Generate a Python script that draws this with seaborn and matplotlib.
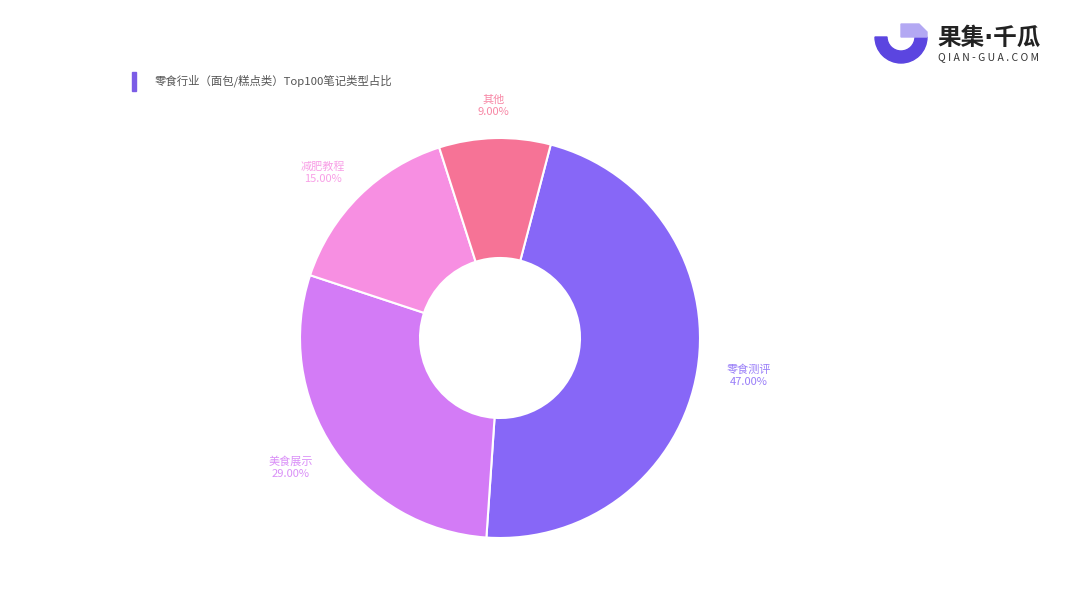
import numpy as np
import matplotlib.pyplot as plt
import matplotlib.patches as mpatches
import seaborn as sns

# data
categories = ['零食测评', '美食展示', '减肥教程', '其他']
shares = [47.00, 29.00, 15.00, 9.00]
colors = ['#8767F7', '#D37BF6', '#F78FE2', '#F67396']
title = '零食行业（面包/糕点类）Top100笔记类型占比'

sns.set_theme(style='white')
plt.rcParams['font.family'] = ['Noto Sans CJK SC', 'DejaVu Sans']

fig = plt.figure(figsize=(10.8, 5.91), dpi=100)
ax = fig.add_axes([0, 0, 1, 1])

start = 75.3
wedges, _ = ax.pie(shares, colors=colors, startangle=start, counterclock=False,
                   radius=1.0, wedgeprops=dict(width=0.6, edgecolor='white', linewidth=1.5))

# labels outside each slice
for w, name, val, c in zip(wedges, categories, shares, colors):
    mid = np.deg2rad((w.theta1 + w.theta2) / 2)
    x, y = 1.26 * np.cos(mid), 1.16 * np.sin(mid)
    ax.text(x, y, f'{name}\n{val:.2f}%', ha='center', va='center', fontsize=8,
            color=c, alpha=0.85, linespacing=1.25)

ax.set_xlim(-500 / 200, 580 / 200)
ax.set_ylim(-(591 - 338) / 200, 338 / 200)
ax.set_aspect('equal')
ax.axis('off')

# title with marker bar
fig.patches.append(mpatches.Rectangle((132 / 1080, 1 - 91 / 591), 4 / 1080, 19 / 591,
                                      transform=fig.transFigure, color='#7B5CE6'))
fig.text(155 / 1080, 1 - 81 / 591, title, fontsize=8.2, color='#555555', va='center')

# logo
lax = fig.add_axes([870 / 1080, 1 - 70 / 591, 62 / 1080, 62 / 591])
lax.set_xlim(-31, 31)
lax.set_ylim(-33, 29)
lax.set_aspect('equal')
lax.axis('off')
lax.add_patch(mpatches.Wedge((0, 0), 26, 180, 360, width=12, color='#5B45E0'))
lax.add_patch(mpatches.Polygon([(0, 0), (0, 13), (18, 13), (26, 5), (26, 0)],
                               closed=True, color='#B3A8F3'))
fig.text(937 / 1080, 1 - 38 / 591, '果集·千瓜', fontsize=17, fontweight='bold',
         color='#222222', va='center', family=['DejaVu Sans', 'Noto Sans CJK SC'])
fig.text(938 / 1080, 1 - 57 / 591, 'Q I A N - G U A . C O M', fontsize=7.5,
         color='#333333', va='center')

fig.savefig('out.png', dpi=100, facecolor='white')
